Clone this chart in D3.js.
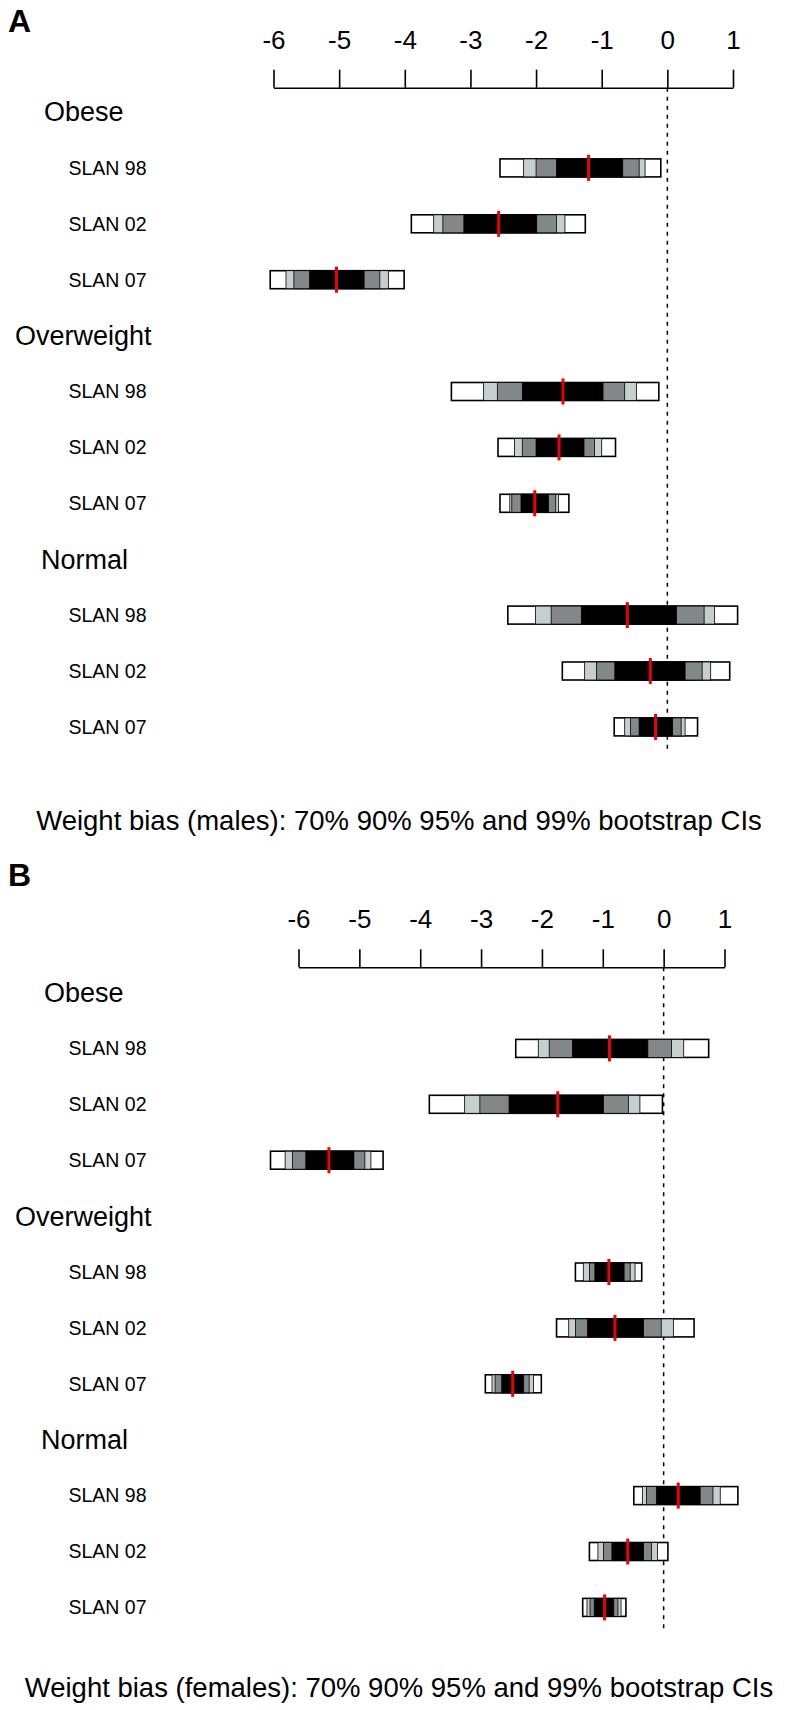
<!DOCTYPE html>
<html>
<head>
<meta charset="utf-8">
<script src="https://cdn.jsdelivr.net/npm/d3@7"></script>
<style>
  body { margin: 0; background: #fff; }
  text { font-family: "Liberation Sans", Arial, sans-serif; fill: #000; }
</style>
</head>
<body>
<script>
const w = 787;
const h = 1710;

const groups = ["Obese", "Overweight", "Normal"];
const surveys = ["SLAN 98", "SLAN 02", "SLAN 07"];
const tickValues = [-6, -5, -4, -3, -2, -1, 0, 1];

// each row: lo99, lo95, lo90, lo70, estimate, hi70, hi90, hi95, hi99
const males = [
  [-2.55, -2.19, -2.00, -1.69, -1.20, -0.68, -0.43, -0.34, -0.10],
  [-3.90, -3.56, -3.42, -3.10, -2.57, -1.99, -1.69, -1.56, -1.25],
  [-6.05, -5.81, -5.69, -5.45, -5.04, -4.62, -4.38, -4.25, -4.01],
  [-3.29, -2.80, -2.59, -2.21, -1.59, -0.98, -0.65, -0.47, -0.13],
  [-2.58, -2.33, -2.21, -2.00, -1.65, -1.27, -1.11, -1.00, -0.79],
  [-2.55, -2.40, -2.37, -2.23, -2.02, -1.81, -1.70, -1.66, -1.50],
  [-2.43, -2.01, -1.77, -1.31, -0.61, 0.14, 0.56, 0.72, 1.07],
  [-1.60, -1.26, -1.08, -0.80, -0.26, 0.27, 0.53, 0.66, 0.95],
  [-0.81, -0.65, -0.56, -0.43, -0.18, 0.08, 0.21, 0.27, 0.46]
];

const females = [
  [-2.43, -2.06, -1.88, -1.50, -0.89, -0.26, 0.13, 0.33, 0.74],
  [-3.85, -3.27, -3.02, -2.54, -1.74, -0.99, -0.58, -0.39, -0.02],
  [-6.46, -6.22, -6.10, -5.88, -5.50, -5.09, -4.91, -4.81, -4.61],
  [-1.45, -1.32, -1.22, -1.13, -0.90, -0.65, -0.55, -0.47, -0.36],
  [-1.76, -1.56, -1.45, -1.25, -0.80, -0.33, -0.04, 0.16, 0.50],
  [-2.93, -2.82, -2.77, -2.66, -2.48, -2.30, -2.21, -2.14, -2.01],
  [-0.49, -0.35, -0.28, -0.12, 0.24, 0.60, 0.81, 0.93, 1.22],
  [-1.22, -1.08, -0.99, -0.85, -0.59, -0.33, -0.20, -0.10, 0.07],
  [-1.33, -1.26, -1.21, -1.14, -0.97, -0.82, -0.75, -0.70, -0.62]
];

const ciFills = ["#ffffff", "#c6cfcf", "#828787", "#000000"];

let svg = d3.select("body").append("svg")
  .attr("width", w)
  .attr("height", h);

function drawPanel(p) {
  let x = d3.scaleLinear().domain([-6, 1]).range(p.range);
  let g = svg.append("g");

  g.append("text")
    .attr("x", 8).attr("y", p.letterY)
    .style("font-size", "32px").style("font-weight", "bold")
    .text(p.letter);

  // axis on top, ticks pointing up
  let axis = d3.axisTop(x).tickValues(tickValues).tickSize(18).tickSizeOuter(0).tickFormat(d3.format("d"));
  let ax = g.append("g").attr("transform", "translate(0," + p.axisY + ")").call(axis);
  ax.select(".domain").attr("stroke", "#000").attr("stroke-width", 1.6);
  ax.selectAll(".tick line").attr("stroke", "#000").attr("stroke-width", 1.6);
  ax.selectAll(".tick text")
    .attr("y", p.labelY - p.axisY).attr("dy", 0)
    .style("font-size", "26px")
    .style("font-family", "'Liberation Sans', Arial, sans-serif")
    .attr("fill", "#000")
    .text(d => d < 0 ? "-" + Math.abs(d) : d);

  g.append("line")
    .attr("x1", x(0)).attr("x2", x(0))
    .attr("y1", p.axisY).attr("y2", p.dotEnd)
    .attr("stroke", "#000").attr("stroke-width", 1.5)
    .attr("stroke-dasharray", "4,5");

  let rowY = i => p.firstRow + p.step * i;
  let bh = 18;

  groups.forEach((grp, gi) => {
    g.append("text")
      .attr("x", p.groupX[gi]).attr("y", rowY(gi * 4)).attr("dy", "0.35em")
      .style("font-size", "27px")
      .text(grp);

    surveys.forEach((s, si) => {
      let row = p.data[gi * 3 + si];
      let cy = rowY(gi * 4 + si + 1);

      g.append("text")
        .attr("x", 68.5).attr("y", cy).attr("dy", "0.35em")
        .style("font-size", "19.5px")
        .text(s);

      let bars = g.append("g");
      [0, 1, 2, 3].forEach(k => {
        bars.append("rect")
          .attr("x", x(row[k]))
          .attr("y", cy - bh / 2)
          .attr("width", x(row[8 - k]) - x(row[k]))
          .attr("height", bh)
          .attr("fill", ciFills[k])
          .attr("stroke", "#000")
          .attr("stroke-width", k === 0 ? 1.6 : 0.8);
      });

      g.append("line")
        .attr("x1", x(row[4])).attr("x2", x(row[4]))
        .attr("y1", cy - 13).attr("y2", cy + 13)
        .attr("stroke", "#e8000b").attr("stroke-width", 3);
    });
  });

  g.append("text")
    .attr("x", 399).attr("y", p.titleY).attr("dy", "0.35em")
    .attr("text-anchor", "middle")
    .style("font-size", "27.5px")
    .text(p.title);
}

drawPanel({
  letter: "A", letterY: 32, data: males,
  range: [273.5, 733], axisY: 87.7, labelY: 49,
  dotEnd: 752, firstRow: 112, step: 55.9,
  groupX: [44, 15, 41], titleY: 820,
  title: "Weight bias (males): 70% 90% 95% and 99% bootstrap CIs"
});

drawPanel({
  letter: "B", letterY: 886, data: females,
  range: [298.5, 724.5], axisY: 967.3, labelY: 928,
  dotEnd: 1630, firstRow: 992.5, step: 55.9,
  groupX: [44, 15, 41], titleY: 1687,
  title: "Weight bias (females): 70% 90% 95% and 99% bootstrap CIs"
});
</script>
</body>
</html>
